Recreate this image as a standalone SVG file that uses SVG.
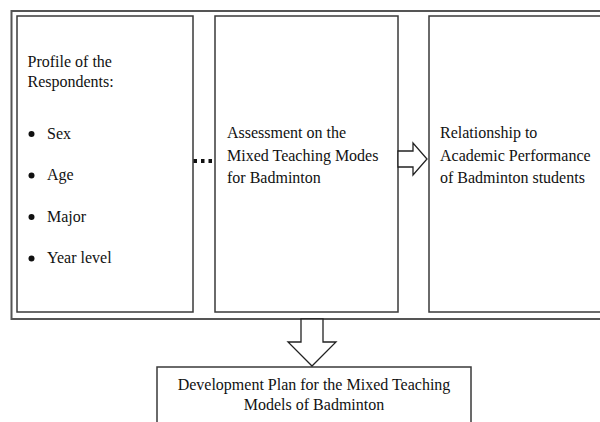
<svg xmlns="http://www.w3.org/2000/svg" width="600" height="422" viewBox="0 0 600 422">
<style>
.box{fill:#fff;stroke:#3a3a3a;stroke-width:1.5}
.outer{fill:none;stroke:#555;stroke-width:2}
.t{font-family:"Liberation Serif","Times New Roman",serif;font-size:16px;fill:#111}
.arrow{fill:#fff;stroke:#222;stroke-width:1.3;stroke-linejoin:miter}
</style>
<rect width="600" height="422" fill="#fff"/>
<g id="frame"><rect class="outer" x="11.5" y="11" width="600" height="308"/></g>
<g id="node-profile">
<rect class="box" x="17" y="16" width="176" height="296"/>
<text class="t" x="27.5" y="67">Profile of the</text>
<text class="t" x="27.5" y="87">Respondents:</text>
<circle cx="31.5" cy="134" r="3" fill="#111"/><text class="t" x="47" y="138.5">Sex</text>
<circle cx="31.5" cy="175.5" r="3" fill="#111"/><text class="t" x="47" y="180">Age</text>
<circle cx="31.5" cy="217" r="3" fill="#111"/><text class="t" x="47" y="221.5">Major</text>
<circle cx="31.5" cy="258.5" r="3" fill="#111"/><text class="t" x="47" y="263">Year level</text>
</g>
<g id="node-assessment">
<rect class="box" x="215" y="16" width="183" height="296"/>
<text class="t" x="227" y="138">Assessment on the</text>
<text class="t" x="227" y="160.5">Mixed Teaching Modes</text>
<text class="t" x="227" y="183">for Badminton</text>
</g>
<g id="node-relationship">
<rect class="box" x="429" y="16" width="180" height="296"/>
<text class="t" x="440" y="138">Relationship to</text>
<text class="t" x="440" y="160.5">Academic Performance</text>
<text class="t" x="440" y="183">of Badminton students</text>
</g>
<g id="node-plan">
<rect class="box" x="157" y="367" width="314" height="60"/>
<text class="t" x="314" y="390" text-anchor="middle">Development Plan for the Mixed Teaching</text>
<text class="t" x="314" y="410" text-anchor="middle">Models of Badminton</text>
</g>
<g id="connectors">
<line x1="193.5" y1="161" x2="214" y2="161" stroke="#111" stroke-width="4" stroke-dasharray="3.5 4"/>
<polygon class="arrow" points="398,151 413,151 413,143 427,159 413,175 413,167 398,167"/>
<polygon class="arrow" points="301,319 323,319 323,342 336,342 312,366 288,342 301,342"/>
</g>
</svg>
